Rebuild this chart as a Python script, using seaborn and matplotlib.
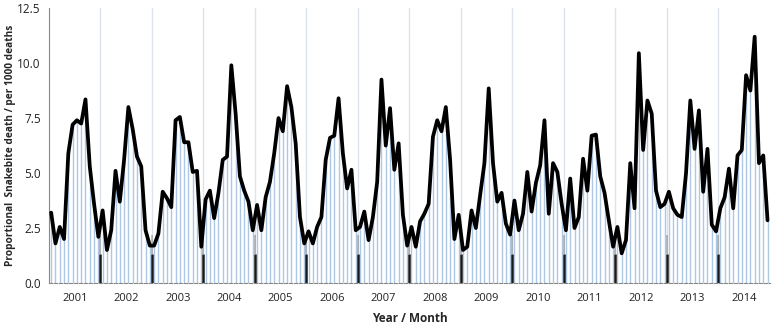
import matplotlib
matplotlib.use("Agg")
import matplotlib.pyplot as plt
import numpy as np
import pandas as pd
import seaborn as sns

# --- data (monthly, Jan 2001 .. Dec 2014) ---
years = [str(y) for y in range(2001, 2015)]

rate_2001 = [3.2, 1.8, 2.55, 2.0, 5.9, 7.2, 7.4, 7.25, 8.35, 5.3, 3.6, 2.1]
rate_2002 = [3.3, 1.5, 2.4, 5.1, 3.7, 5.6, 8.0, 7.0, 5.75, 5.3, 2.4, 1.7]
rate_2003 = [1.7, 2.25, 4.15, 3.85, 3.45, 7.4, 7.55, 6.4, 6.4, 5.05, 5.1, 1.65]
rate_2004 = [3.8, 4.2, 2.95, 4.1, 5.6, 5.75, 9.9, 7.7, 4.85, 4.2, 3.7, 2.4]
rate_2005 = [3.55, 2.4, 3.9, 4.6, 5.9, 7.5, 6.9, 8.95, 8.0, 6.35, 3.0, 1.8]
rate_2006 = [2.35, 1.8, 2.55, 3.0, 5.6, 6.6, 6.7, 8.4, 5.9, 4.3, 5.15, 2.4]
rate_2007 = [2.55, 3.25, 1.95, 3.0, 4.6, 9.25, 6.25, 7.95, 5.15, 6.35, 3.1, 1.7]
rate_2008 = [2.55, 1.65, 2.8, 3.15, 3.6, 6.65, 7.4, 6.9, 8.0, 5.6, 2.0, 3.1]
rate_2009 = [1.5, 1.65, 3.3, 2.5, 4.0, 5.45, 8.85, 5.45, 3.7, 4.1, 2.7, 2.2]
rate_2010 = [3.75, 2.4, 3.15, 5.05, 3.25, 4.55, 5.35, 7.4, 3.15, 5.45, 5.05, 3.6]
rate_2011 = [2.4, 4.75, 2.5, 3.0, 5.65, 4.2, 6.7, 6.75, 4.85, 4.1, 2.85, 1.65]
rate_2012 = [2.55, 1.35, 1.95, 5.45, 3.4, 10.45, 6.05, 8.3, 7.7, 4.2, 3.45, 3.6]
rate_2013 = [4.15, 3.4, 3.1, 3.0, 5.0, 8.3, 6.1, 7.85, 4.15, 6.1, 2.65, 2.35]
rate_2014 = [3.4, 3.9, 5.2, 3.4, 5.8, 6.05, 9.45, 8.75, 11.2, 5.45, 5.8, 2.85]

rates = (rate_2001 + rate_2002 + rate_2003 + rate_2004 + rate_2005 + rate_2006 + rate_2007
         + rate_2008 + rate_2009 + rate_2010 + rate_2011 + rate_2012 + rate_2013 + rate_2014)

df = pd.DataFrame({"month": np.arange(len(rates)), "rate": rates})

# --- style ---
sns.set_theme(style="white")
plt.rcParams["font.family"] = ["Open Sans", "DejaVu Sans"]

fig = plt.figure(figsize=(7.72, 3.24), dpi=100)
ax = fig.add_axes([0.0635, 0.1265, 0.9335, 0.8485])

n = len(rates)
bounds = np.arange(0, n + 1, 12) - 0.5

# year gridlines
for b in bounds[1:-1]:
    ax.axvline(b, color="#dde3ea", lw=1.0, zorder=0)

# drop lines from every point
ax.vlines(df["month"], 0, df["rate"], color="#adc7e4", lw=1.0, zorder=1)

# dark marks at the year boundaries near the axis
ax.vlines(bounds[1:-1], 0, 1.3, color="#1a1a1a", lw=1.8, zorder=2)
ax.vlines(bounds[1:-1], 1.3, 2.2, color="#1a1a1a", lw=1.2, alpha=0.3, zorder=2)

sns.lineplot(data=df, x="month", y="rate", color="black", lw=2.7, ax=ax, zorder=3)

ax.set_xlim(-0.5, n - 0.5)
ax.set_ylim(0, 12.5)
ax.set_yticks(np.arange(0, 12.6, 2.5))
ax.set_yticklabels([f"{v:.1f}" for v in np.arange(0, 12.6, 2.5)], fontsize=8.5, color="#222222")

ax.set_xticks(bounds)
ax.set_xticklabels([])
ax.set_xticks(np.arange(5.5, n, 12), minor=True)
ax.set_xticklabels(years, minor=True, fontsize=8, color="#222222")
ax.tick_params(axis="x", which="major", direction="out", length=4, width=0.8, color="#888888")
ax.tick_params(axis="x", which="minor", length=0, pad=7)
ax.tick_params(axis="y", direction="out", length=4, width=0.8, color="#888888", pad=2)

for side in ["top", "right"]:
    ax.spines[side].set_visible(False)
ax.spines["left"].set_color("#888888")
ax.spines["bottom"].set_color("#888888")
ax.spines["left"].set_linewidth(0.8)
ax.spines["bottom"].set_linewidth(0.8)
ax.spines["bottom"].set_linestyle((0, (3, 1.5)))

ax.set_xlabel("Year / Month", fontsize=8.5, fontweight="bold", labelpad=6)
ax.set_ylabel("Proportional  Snakebite death / per 1000 deaths", fontsize=7.3, fontweight="bold")
ax.yaxis.set_label_coords(-0.046, 0.5)

fig.savefig("out.png", dpi=100)
